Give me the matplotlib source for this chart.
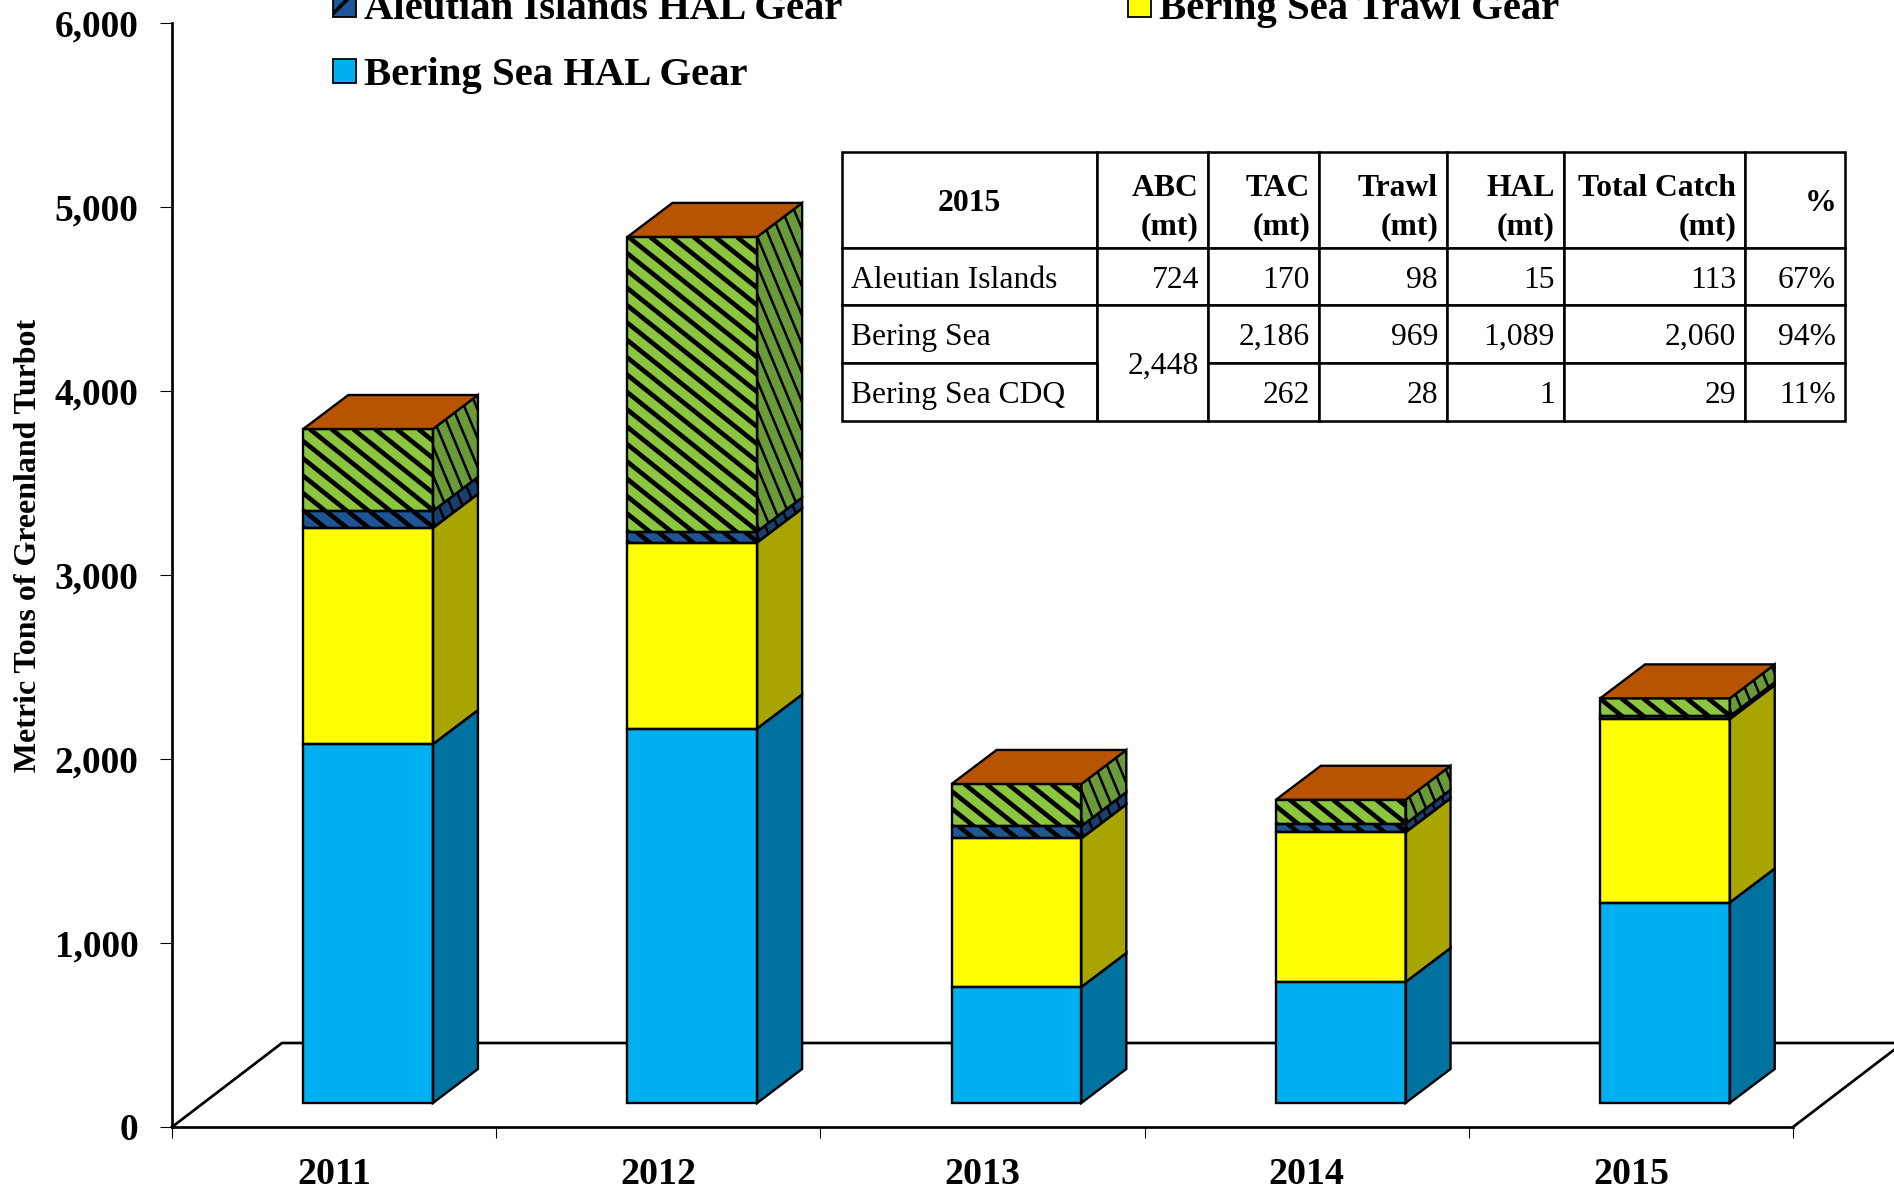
#!/usr/bin/env python3
"""Greenland turbot catch by area and gear, 2011-2015 (pseudo 3D stacked bars + table)."""

import numpy as np
import matplotlib
matplotlib.use("Agg")
import matplotlib.pyplot as plt
from matplotlib.collections import LineCollection
from matplotlib.patches import Patch, Polygon

plt.rcParams["font.family"] = ["Liberation Serif", "DejaVu Serif"]
plt.rcParams["hatch.linewidth"] = 2.0

YEARS = ["2011", "2012", "2013", "2014", "2015"]
BS_HAL = [1950, 2035, 630, 657, 1089]
BS_TRAWL = [1175, 1011, 808, 814, 997]
AI_HAL = [92, 59, 66, 46, 15]
AI_TRAWL = [446, 1602, 230, 131, 98]

Y_TICKS = [0, 1000, 2000, 3000, 4000, 5000, 6000]
Y_LABELS = ["0", "1,000", "2,000", "3,000", "4,000", "5,000", "6,000"]

TABLE_COLS = ["2015", "ABC\n(mt)", "TAC\n(mt)", "Trawl\n(mt)", "HAL\n(mt)", "Total Catch\n(mt)", "%"]
TABLE_ROWS = [
    ["Aleutian Islands", "724", "170", "98", "15", "113", "67%"],
    ["Bering Sea", "", "2,186", "969", "1,089", "2,060", "94%"],
    ["Bering Sea CDQ", "", "262", "28", "1", "29", "11%"],
]
MERGED_ABC = "2,448"
COL_WIDTHS = [255, 111, 111, 128, 117, 181, 100]
ROW_HEIGHTS = [96, 57, 58, 58]

# (front colour, side colour, striped)
STYLES = [
    ("#00B0F0", "#0072A0", False),
    ("#FFFF00", "#A8A400", False),
    ("#1F5596", "#17406E", True),
    ("#8CC63F", "#6B9A38", True),
]
TOP_COLOR = "#B85400"

W, H, DPI = 1894, 1189, 130
AX_L, AX_R, AX_T, AX_B = 172, 1793, 23, 1127
PX_X = (AX_R - AX_L) / 5          # pixels per category
PX_Y = (AX_B - AX_T) / 6000       # pixels per metric ton

BAR_W = 0.40
BAR_DX = 45 / PX_X                # depth of a bar
BAR_DY = 34 / PX_Y
FLOOR_DX = 110 / PX_X             # depth of the floor
FLOOR_DY = 84 / PX_Y
BASE_DX = 34 / PX_X               # bar front sits this far back on the floor
BASE_DY = 24 / PX_Y


def stripes(ax, poly, period_px, slope_px, lw):
    """Black diagonal stripes clipped to poly; slope is pixels down per pixel right."""
    xy = poly.get_xy()
    x0, x1 = xy[:, 0].min() * PX_X, xy[:, 0].max() * PX_X
    y0, y1 = xy[:, 1].min() * PX_Y, xy[:, 1].max() * PX_Y
    span = (x1 - x0) + (y1 - y0) / slope_px
    segs = []
    for off in np.arange(-span, span, period_px):
        xa = x0 + off
        xb = xa + (y1 - y0) / slope_px * 2 + (x1 - x0)
        ya = y1
        yb = y1 - (xb - xa) * slope_px
        segs.append([(xa / PX_X, ya / PX_Y), (xb / PX_X, yb / PX_Y)])
    lc = LineCollection(segs, colors="black", linewidths=lw, zorder=4)
    ax.add_collection(lc, autolim=False)
    lc.set_clip_path(poly)


def draw_bar(ax, i, values):
    x0 = i + 0.5 + BASE_DX - BAR_W / 2
    x1 = x0 + BAR_W
    bottom = BASE_DY
    for val, (front, side, striped) in zip(values, STYLES):
        top = bottom + val
        f = [(x0, bottom), (x1, bottom), (x1, top), (x0, top)]
        s = [(x1, bottom), (x1 + BAR_DX, bottom + BAR_DY), (x1 + BAR_DX, top + BAR_DY), (x1, top)]
        fp = ax.add_patch(Polygon(f, closed=True, fc=front, ec="none", zorder=3, clip_on=False))
        sp = ax.add_patch(Polygon(s, closed=True, fc=side, ec="none", zorder=3, clip_on=False))
        if striped:
            stripes(ax, fp, 21.7, 0.80, 2.6)
            stripes(ax, sp, 12.0, 2.4, 1.4)
        for pts in (f, s):
            ax.add_patch(Polygon(pts, closed=True, fill=False, ec="black", lw=1.3, zorder=5, clip_on=False))
        bottom = top
    t = [(x0, bottom), (x1, bottom), (x1 + BAR_DX, bottom + BAR_DY), (x0 + BAR_DX, bottom + BAR_DY)]
    ax.add_patch(Polygon(t, closed=True, fc=TOP_COLOR, ec="black", lw=1.3, zorder=5, clip_on=False))


def draw_table(fig):
    left, right = 842 / W, 1845 / W
    top, bottom = 1 - 152 / H, 1 - 421 / H
    tax = fig.add_axes([left, bottom, right - left, top - bottom])
    tax.axis("off")
    widths = np.array(COL_WIDTHS) / sum(COL_WIDTHS)
    tab = tax.table(cellText=[TABLE_COLS] + TABLE_ROWS, colWidths=list(widths),
                    bbox=[0, 0, 1, 1], cellLoc="right")
    tab.auto_set_font_size(False)
    tab.set_fontsize(17.5)
    for (r, c), cell in tab.get_celld().items():
        cell.set_height(ROW_HEIGHTS[r] / sum(ROW_HEIGHTS))
        cell.set_linewidth(1.4)
        cell.PAD = 9 / COL_WIDTHS[c]
        txt = cell.get_text()
        txt.set_linespacing(1.4)
        txt.set_va("center_baseline")
        if r == 0:
            txt.set_fontweight("bold")
        if c == 0:
            txt.set_ha("center" if r == 0 else "left")
            cell._loc = "center" if r == 0 else "left"
        if c == 1 and r == 2:
            cell.visible_edges = "LRT"
        if c == 1 and r == 3:
            cell.visible_edges = "LRB"
    x_mid = (COL_WIDTHS[0] + COL_WIDTHS[1] - 9) / sum(COL_WIDTHS)
    y_mid = ROW_HEIGHTS[3] / sum(ROW_HEIGHTS)
    tax.text(x_mid, y_mid, MERGED_ABC, ha="right", va="center_baseline", fontsize=17.5,
             transform=tax.transAxes)


def main():
    fig = plt.figure(figsize=(W / DPI, H / DPI), dpi=DPI)
    ax = fig.add_axes([AX_L / W, 1 - AX_B / H, (AX_R - AX_L) / W, (AX_B - AX_T) / H])
    ax.set_xlim(0, 5)
    ax.set_ylim(0, 6000)
    for side in ("top", "right"):
        ax.spines[side].set_visible(False)
    for side in ("left", "bottom"):
        ax.spines[side].set_linewidth(1.5)

    ax.plot([0, FLOOR_DX, 5 + FLOOR_DX + 0.1], [0, FLOOR_DY, FLOOR_DY], color="black", lw=1.5,
            clip_on=False, zorder=2)
    ax.plot([5, 5 + FLOOR_DX], [0, FLOOR_DY], color="black", lw=1.5, clip_on=False, zorder=2)

    for i in range(len(YEARS)):
        draw_bar(ax, i, [BS_HAL[i], BS_TRAWL[i], AI_HAL[i], AI_TRAWL[i]])

    ax.set_yticks(Y_TICKS)
    ax.set_yticklabels(Y_LABELS, fontsize=20.7, fontweight="bold")
    ax.tick_params(axis="y", length=6.5, width=0.6, pad=12)
    ax.set_xticks(range(6))
    ax.set_xticklabels([])
    ax.tick_params(axis="x", which="major", length=6, width=0.6)
    ax.set_xticks(np.arange(len(YEARS)) + 0.5, minor=True)
    ax.set_xticklabels(YEARS, minor=True, fontsize=21, fontweight="bold")
    ax.tick_params(axis="x", which="minor", length=0, pad=16.5)
    ax.set_ylabel("Metric Tons of Greenland Turbot", fontsize=17.7, fontweight="bold")
    ax.yaxis.set_label_coords((43 - AX_L) / (AX_R - AX_L), 0.527)

    handles = [
        Patch(fc=STYLES[2][0], ec="black", lw=1.0, hatch="/"),
        Patch(fc=STYLES[0][0], ec="black", lw=1.0),
        Patch(fc=STYLES[1][0], ec="black", lw=1.0),
    ]
    labels = ["Aleutian Islands HAL Gear", "Bering Sea HAL Gear", "Bering Sea Trawl Gear"]
    leg = fig.legend(handles, labels, ncol=2, loc="upper left", bbox_to_anchor=(333 / W, 1 + 9 / H),
                     frameon=False, prop={"size": 22.6, "weight": "bold"}, borderpad=0, borderaxespad=0,
                     handlelength=0.56, handleheight=0.56, handletextpad=0.2, labelspacing=0.72,
                     columnspacing=7.0)
    leg.set_zorder(6)

    draw_table(fig)
    fig.savefig("out.png", dpi=DPI)
    plt.close(fig)


if __name__ == "__main__":
    main()
